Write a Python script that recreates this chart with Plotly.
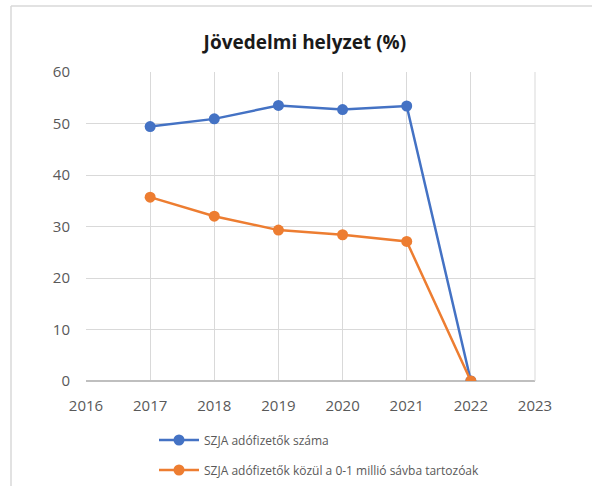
import plotly.graph_objects as go

years = [2017, 2018, 2019, 2020, 2021, 2022]
szja_total = [49.4, 50.9, 53.5, 52.7, 53.4, 0]
szja_low = [35.7, 32.0, 29.3, 28.4, 27.1, 0]
series_names = ["SZJA adófizetők száma", "SZJA adófizetők közül a 0-1 millió sávba tartozóak"]

W, H = 592, 486
L, R, T, B = 86, 57, 72, 105

fig = go.Figure()
fig.add_trace(go.Scatter(x=years, y=szja_total, mode="lines+markers", name=series_names[0],
                         line=dict(color="#4472C4", width=2.5), marker=dict(size=11, color="#4472C4"),
                         legend="legend"))
fig.add_trace(go.Scatter(x=years, y=szja_low, mode="lines+markers", name=series_names[1],
                         line=dict(color="#ED7D31", width=2.5), marker=dict(size=11, color="#ED7D31"),
                         legend="legend2"))

ph = H - T - B
pw = W - L - R
def py(pix):
    return (H - B - pix) / ph
def px(pix):
    return (pix - L) / pw

legend_common = dict(orientation="v", xanchor="left", yanchor="middle", bgcolor="rgba(0,0,0,0)",
                     font=dict(family="Open Sans, sans-serif", size=12, color="#595959"),
                     itemwidth=40)

fig.update_layout(
    width=W, height=H,
    paper_bgcolor="white", plot_bgcolor="white",
    margin=dict(l=L, r=R, t=T, b=B, autoexpand=False),
    title=dict(text="<b>Jövedelmi helyzet (%)</b>", x=0.515, xanchor="center", y=1 - 42 / H, yanchor="middle",
               font=dict(family="Open Sans, sans-serif", size=19, color="#1a1a1a")),
    font=dict(family="Open Sans, sans-serif", size=15, color="#595959"),
    xaxis=dict(range=[2016, 2023], dtick=1, tick0=2016, showgrid=True, gridcolor="#D9D9D9", gridwidth=1,
               zeroline=False, showline=False, ticks="", ticklabelstandoff=14,
               tickfont=dict(size=15, color="#595959")),
    yaxis=dict(range=[0, 60], dtick=10, showgrid=True, gridcolor="#D9D9D9", gridwidth=1,
               zeroline=True, zerolinecolor="#BFBFBF", zerolinewidth=1.5, showline=False, ticks="",
               ticklabelstandoff=15, tickfont=dict(size=15, color="#595959")),
    legend=dict(x=px(154), y=py(440), **legend_common),
    legend2=dict(x=px(154), y=py(470), **legend_common),
    showlegend=True,
)
fig.add_shape(type="line", xref="paper", yref="paper", x0=1, x1=1, y0=0, y1=1,
              line=dict(color="#D9D9D9", width=1))
# outer chart border (left and top edges visible)
fig.add_shape(type="line", xref="paper", yref="paper", x0=px(11), x1=px(11), y0=py(6), y1=py(H + 5),
              line=dict(color="#D9D9D9", width=1.5))
fig.add_shape(type="line", xref="paper", yref="paper", x0=px(11), x1=px(W + 5), y0=py(6), y1=py(6),
              line=dict(color="#D9D9D9", width=1.5))

fig.write_html("out.html", config={"displayModeBar": False},
               post_script="document.body.style.margin='0px';")
